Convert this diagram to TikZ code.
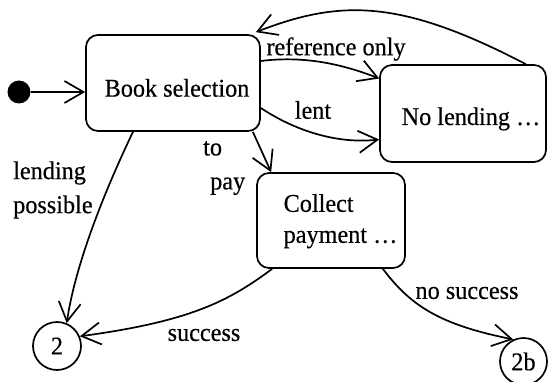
\documentclass[tikz,border=0pt]{standalone}
\usepackage{fontspec}
\newfontfamily\diafont[FakeStretch=0.95,FakeBold=0.4]{Liberation Serif}
\usetikzlibrary{arrows.meta,calc}
\begin{document}
\begin{tikzpicture}[x=1pt,y=-1pt,
  every node/.style={font=\diafont\fontsize{25.5}{34}\selectfont, inner sep=0pt},
  statebox/.style={draw, line width=1.7pt, rounded corners=12pt},
  endcirc/.style={draw, circle, line width=1.7pt},
  arr/.style={line width=1.7pt, -{Straight Barb[length=19pt,width=22pt,line width=1.7pt]}},
  lbl/.style={}]
\useasboundingbox (0,0) rectangle (548,382);
% states
\node[circle, fill, minimum size=23pt] (start) at (19,92) {};
\node[statebox, minimum width=174pt, minimum height=96pt] (book) at (173,83)
  {\hspace*{8pt}\rule{0pt}{27.5pt}Book selection};
\node[statebox, minimum width=166pt, minimum height=97pt] (nolend) at (463,113.5)
  {\hspace*{16pt}\rule[-5pt]{0pt}{33.5pt}No lending …};
\node[statebox, minimum width=148pt, minimum height=95pt] (collect) at (331,220.5)
  {\hspace*{19pt}\begin{tabular}{@{}l@{}}Collect\\[-3pt]payment …\end{tabular}};
\node[endcirc, minimum size=48pt] (c2) at (57,346) {2};
\node[endcirc, minimum size=47pt] (c2b) at (523.5,361.5) {2b};
% labels
\node[lbl] (lref) at (336,49) {reference only};
\node[lbl] (llent) at (313,110) {lent};
\node[lbl, align=left, anchor=west] (lpay) at (203,168) {to\\\hspace*{7pt}pay};
\node[lbl, align=left, anchor=west] (lposs) at (13,190) {lending\\possible};
\node[lbl] (lsucc) at (204,335) {success};
\node[lbl] (lnosucc) at (467,293) {no success};
% transitions
\draw[arr] (start) -- (start -| book.west);
\draw[arr] ([xshift=-21pt]nolend.north east) .. controls +(-125,-65) and +(85,-33) .. ([xshift=-5pt,yshift=2pt]book.north east);
\draw[arr] ([yshift=22pt]book.east) .. controls +(40,-5) and +(-41,-16) .. ([yshift=35pt]nolend.west);
\draw[arr] ([yshift=-25pt]book.east) .. controls +(30,20) and +(-46,5) .. ([yshift=-26pt]nolend.west);
\draw[arr] ([xshift=-8pt]book.south east) -- ([xshift=15pt]collect.north west);
\draw[arr] ([xshift=-40pt]book.south) .. controls +(-33,69) and +(8,-54) .. (c2.67);
\draw[arr] ([xshift=16pt]collect.south west) .. controls +(-43,32) and +(111,-15) .. (c2.23);
\draw[arr] ([xshift=-23pt]collect.south east) .. controls +(28,37) and +(-74,-15) .. (c2b.115);
\end{tikzpicture}
\end{document}
